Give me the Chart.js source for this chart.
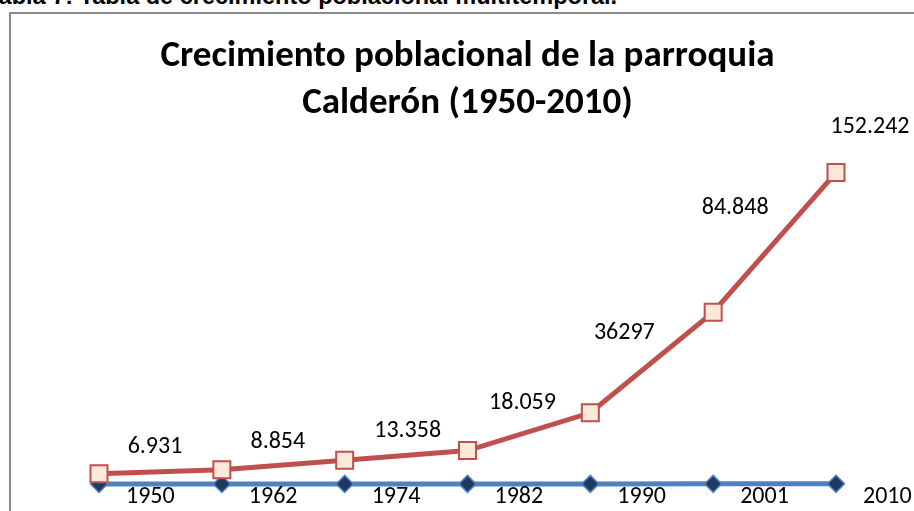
<!DOCTYPE html>
<html lang="es">
<head>
<meta charset="utf-8">
<script src="https://cdn.jsdelivr.net/npm/chart.js@4.4.1/dist/chart.umd.min.js"></script>
<style>
  html, body { margin: 0; padding: 0; background: #fff; overflow: hidden; }
  #caption {
    position: absolute; left: -14px; top: -15px;
    font: bold 23.5px "Liberation Sans", Arial, sans-serif;
    line-height: 1; white-space: nowrap; color: #000;
  }
  #frame {
    position: absolute; left: 9px; top: 12px;
    width: 1000px; height: 600px; border: 2px solid #8a8a8a;
  }
  #wrap { position: absolute; left: 0; top: 0; width: 914px; height: 511px; }
</style>
</head>
<body>
<div id="caption">Tabla 7: Tabla de crecimiento poblacional multitemporal.</div>
<div id="frame"></div>
<div id="wrap"><canvas id="myChart"></canvas></div>
<script>
const anios = ['1950', '1962', '1974', '1982', '1990', '2001', '2010'];
const poblacion = [6931, 8854, 13358, 18059, 36297, 84848, 152242];
const etiquetasPoblacion = ['6.931', '8.854', '13.358', '18.059', '36297', '84.848', '152.242'];
const serieAnios = [1950, 1962, 1974, 1982, 1990, 2001, 2010];

// where the labels sit relative to their point (they were dragged by hand in the original)
const desplRojo = [[56, -27], [56, -28], [63, -29], [55, -48], [34, -80], [22, -104], [34, -46]];
const desplAzul = [27, 13];

const etiquetas = {
    id: 'etiquetas',
    afterDatasetsDraw(chart) {
        const c = chart.ctx;
        c.save();
        c.font = '24px Carlito, Lato, sans-serif';
        c.fillStyle = '#000';
        c.textBaseline = 'middle';
        c.textAlign = 'center';
        chart.getDatasetMeta(0).data.forEach((p, i) => {
            c.fillText(etiquetasPoblacion[i], p.x + desplRojo[i][0], p.y + desplRojo[i][1]);
        });
        c.textAlign = 'left';
        chart.getDatasetMeta(1).data.forEach((p, i) => {
            c.fillText(String(serieAnios[i]), p.x + desplAzul[0], p.y + desplAzul[1]);
        });
        c.restore();
    }
};

const ctx = document.getElementById('myChart');

const chart = new Chart(ctx, {
    type: 'line',
    data: {
        labels: anios,
        datasets: [
            {
                label: 'Población',
                data: poblacion,
                borderColor: '#C0504D',
                borderWidth: 5,
                pointStyle: 'rect',
                pointRadius: 12,
                pointBackgroundColor: '#FDE9D9',
                pointBorderColor: '#C0504D',
                pointBorderWidth: 2,
                clip: false,
            },
            {
                label: 'Año',
                data: serieAnios,
                borderColor: '#4F81BD',
                borderWidth: 5,
                pointStyle: 'rectRot',
                pointRadius: 8.5,
                pointBackgroundColor: '#1F3A60',
                pointBorderColor: '#4F81BD',
                pointBorderWidth: 1.5,
                clip: false,
            },
        ],
    },
    options: {
        responsive: true,
        maintainAspectRatio: false,
        animation: false,
        layout: {
            padding: { top: 14, left: 99, right: 78, bottom: 23 }
        },
        plugins: {
            legend: { display: false },
            tooltip: { enabled: false },
            title: {
                display: true,
                text: ['Crecimiento poblacional de la parroquia', 'Calderón (1950-2010)'],
                color: '#000',
                font: { family: 'Carlito, Lato, sans-serif', size: 37, weight: 'bold', lineHeight: 1.25 },
                padding: { top: 20, bottom: 30 }
            }
        },
        scales: {
            x: { display: false, offset: false },
            y: { display: false, min: 0, max: 160000 }
        }
    },
    plugins: [etiquetas]
});
</script>
</body>
</html>
